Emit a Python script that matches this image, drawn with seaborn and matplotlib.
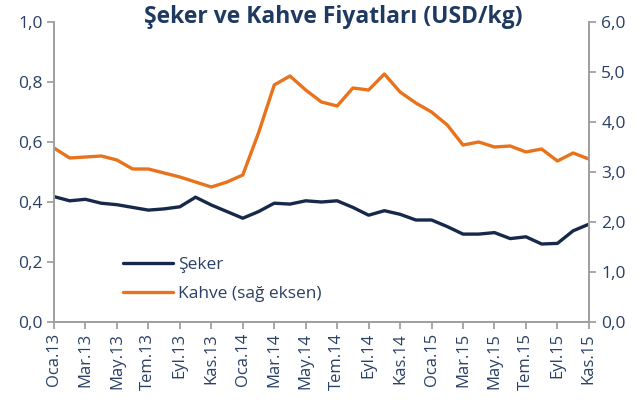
import matplotlib
matplotlib.use("Agg")
import matplotlib.pyplot as plt
import seaborn as sns
import pandas as pd
import numpy as np

months = ["Oca.13","Şub.13","Mar.13","Nis.13","May.13","Haz.13","Tem.13","Ağu.13","Eyl.13","Eki.13","Kas.13","Ara.13",
          "Oca.14","Şub.14","Mar.14","Nis.14","May.14","Haz.14","Tem.14","Ağu.14","Eyl.14","Eki.14","Kas.14","Ara.14",
          "Oca.15","Şub.15","Mar.15","Nis.15","May.15","Haz.15","Tem.15","Ağu.15","Eyl.15","Eki.15","Kas.15"]
seker = [0.418,0.404,0.409,0.396,0.391,0.382,0.373,0.377,0.384,0.416,0.390,0.368,
         0.346,0.368,0.396,0.393,0.404,0.400,0.404,0.382,0.356,0.371,0.359,0.340,
         0.340,0.318,0.293,0.293,0.298,0.278,0.284,0.260,0.262,0.304,0.326]
kahve = [3.48,3.28,3.30,3.32,3.24,3.06,3.06,2.98,2.90,2.80,2.70,2.80,
         2.94,3.78,4.74,4.92,4.64,4.40,4.32,4.68,4.64,4.96,4.60,4.38,
         4.20,3.94,3.54,3.60,3.50,3.52,3.40,3.46,3.22,3.38,3.26]

df = pd.DataFrame({"t": np.arange(len(months)), "Şeker": seker, "Kahve": kahve})

sns.set_theme(style="white")
plt.rcParams['font.family'] = ['Open Sans', 'DejaVu Sans']

navy = "#16294a"
orange = "#e8731c"
txt = "#2a4066"
grey = "#a0a0a0"

fig = plt.figure(figsize=(6.38, 4.0), dpi=100)
ax = fig.add_axes([0.0846, 0.195, 0.923 - 0.0846, 0.75])
ax2 = ax.twinx()

sns.lineplot(data=df, x="t", y="Şeker", ax=ax, color=navy, lw=2.4, label="Şeker", legend=False,
             solid_joinstyle="round", solid_capstyle="round")
sns.lineplot(data=df, x="t", y="Kahve", ax=ax2, color=orange, lw=2.4, label="Kahve (sağ eksen)", legend=False,
             solid_joinstyle="round", solid_capstyle="round")

for a in (ax, ax2):
    a.set_xlim(0, len(months) - 1)
    a.set_xlabel("")
    a.set_ylabel("")
    for s in a.spines.values():
        s.set_color(grey)
        s.set_linewidth(1.3)
    a.spines["top"].set_visible(False)

ax.set_ylim(0, 1.0)
ax.set_yticks(np.arange(0, 1.01, 0.2))
ax.set_yticklabels([f"{v:.1f}".replace(".", ",") for v in np.arange(0, 1.01, 0.2)])
ax2.set_ylim(0, 6.0)
ax2.set_yticks(np.arange(0, 6.01, 1.0))
ax2.set_yticklabels([f"{v:.1f}".replace(".", ",") for v in np.arange(0, 6.01, 1.0)])

ax.set_xticks(df["t"][::2])
ax.set_xticklabels(months[::2], rotation=90)

ax.tick_params(axis="both", colors=grey, labelcolor=txt, labelsize=12.5, length=5, width=1.3, direction="out", pad=3)
ax.tick_params(axis="y", left=True)
ax.tick_params(axis="x", bottom=True, labelsize=12)
ax2.tick_params(axis="y", colors=grey, labelcolor=txt, labelsize=12.5, length=5, width=1.3, right=True, pad=4)

h1, l1 = ax.get_legend_handles_labels()
h2, l2 = ax2.get_legend_handles_labels()
leg = ax.legend(h1 + h2, l1 + l2, loc="upper left", bbox_to_anchor=(0.10, 0.27), frameon=False,
                fontsize=12.5, handlelength=2.9, labelspacing=0.75, handletextpad=0.25)
for t in leg.get_texts():
    t.set_color(txt)

fig.text(0.522, 0.957, "Şeker ve Kahve Fiyatları (USD/kg)", ha="center", va="center",
         fontsize=16.5, fontweight="bold", color="#1f3a60")

fig.savefig("out.png", dpi=100)
